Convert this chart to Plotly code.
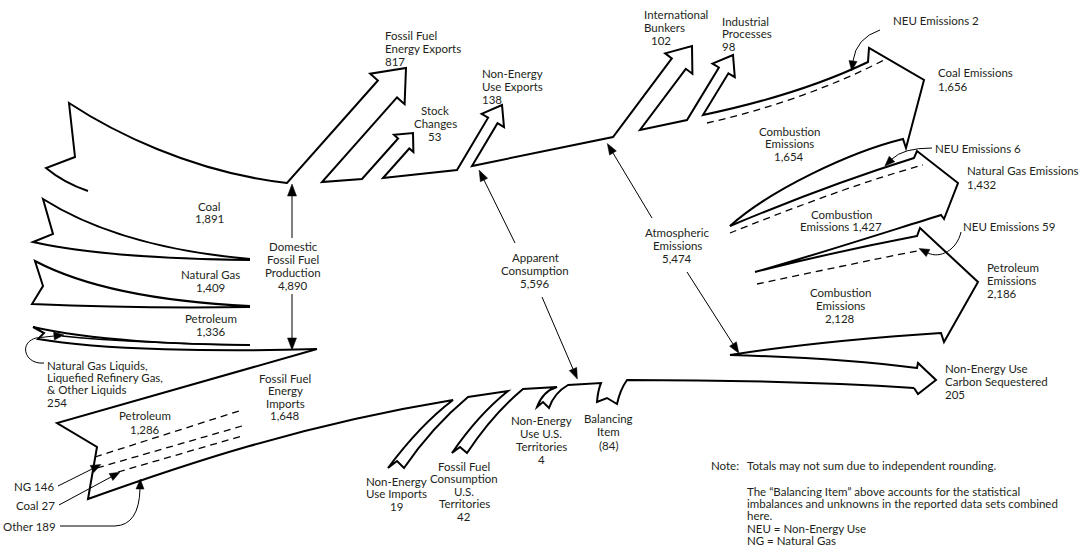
import numpy as np
import plotly.graph_objects as go

# ---------------- DATA (MMT CO2 Eq.) ----------------
production_names = ["Coal", "Natural Gas", "Petroleum",
                    "Natural Gas Liquids,\nLiquefied Refinery Gas,\n& Other Liquids"]
production_values = [1891, 1409, 1336, 254]

import_names = ["Petroleum", "NG", "Coal", "Other"]
import_values = [1286, 146, 27, 189]

total_names = ["Domestic\nFossil Fuel\nProduction", "Fossil Fuel\nEnergy\nImports",
               "Apparent\nConsumption", "Atmospheric\nEmissions"]
total_values = [4890, 1648, 5596, 5474]

outflow_names = ["Fossil Fuel\nEnergy Exports", "Stock\nChanges", "Non-Energy\nUse Exports",
                 "International\nBunkers", "Industrial\nProcesses"]
outflow_values = [817, 53, 138, 102, 98]

territory_names = ["Non-Energy\nUse Imports", "Fossil Fuel\nConsumption\nU.S.\nTerritories",
                   "Non-Energy\nUse U.S.\nTerritories", "Balancing\nItem"]
territory_values = [19, 42, 4, -84]

emission_names = ["Coal Emissions", "Natural Gas Emissions", "Petroleum\nEmissions",
                  "Non-Energy Use\nCarbon Sequestered"]
emission_values = [1656, 1432, 2186, 205]

combustion_names = ["Combustion\nEmissions", "Combustion\nEmissions", "Combustion\nEmissions"]
combustion_values = [1654, 1427, 2128]

neu_emission_names = ["NEU Emissions", "NEU Emissions", "NEU Emissions"]
neu_emission_values = [2, 6, 59]

note_head = "Note:"
note_lines = ["Totals may not sum due to independent rounding.",
              "",
              "The \u201cBalancing Item\u201d above accounts for the statistical",
              "imbalances and unknowns in the reported data sets combined",
              "here.",
              "NEU = Non-Energy Use",
              "NG = Natural Gas"]

# ---------------- STYLE ----------------
INK = "#000000"
TXT = "#231f20"
FONT = "Lato, 'Open Sans', sans-serif"
FS = 11.5


def fmt(v):
    return f"({abs(v):,})" if v < 0 else f"{v:,}"


def f2(p):
    return f"{p[0]:.1f},{p[1]:.1f}"


class Path:
    def __init__(self, start):
        self.parts = ["M " + f2(start)]

    def L(self, *pts):
        for p in pts:
            self.parts.append("L " + f2(p))
        return self

    def Q(self, c, p):
        self.parts.append(f"Q {f2(c)} {f2(p)}")
        return self

    def C(self, c1, c2, p):
        self.parts.append(f"C {f2(c1)} {f2(c2)} {f2(p)}")
        return self

    def arrow(self, bl, br, tip, hw, hl):
        bl, br, tip = (np.array(v, float) for v in (bl, br, tip))
        mid = (bl + br) / 2
        d = tip - mid
        d /= np.linalg.norm(d)
        n = np.array([-d[1], d[0]])
        if np.dot(bl - mid, n) < 0:
            n = -n
        sw = abs(np.dot(bl - br, n)) / 2
        neck = tip - d * hl
        self.L(neck + n * sw, neck + n * hw / 2, tip, neck - n * hw / 2, neck - n * sw, br)
        return self

    def ribbon(self, cl, el, notch, er, cr, tr):
        self.Q(cl, el).L(notch, er).Q(cr, tr)
        return self

    def s(self):
        return " ".join(self.parts)


def head(end, frm, L=10, W=8):
    end = np.array(end, float)
    frm = np.array(frm, float)
    d = end - frm
    d /= np.linalg.norm(d)
    n = np.array([-d[1], d[0]])
    tip = end + d * L
    a = end + n * W / 2
    b = end - n * W / 2
    return f"M {f2(a)} L {f2(tip)} L {f2(b)} Z"


shapes = []


def outline(p, w=2.0):
    shapes.append(dict(type="path", path=p, xref="x", yref="y",
                       line=dict(color=INK, width=w)))


def dashed(p):
    shapes.append(dict(type="path", path=p, xref="x", yref="y",
                       line=dict(color=INK, width=1.3, dash="7px,5px")))


def callout(p, hd, L=10, W=8):
    shapes.append(dict(type="path", path=p, xref="x", yref="y",
                       line=dict(color=INK, width=1.0)))
    shapes.append(dict(type="path", path=head(*hd, L=L, W=W), xref="x", yref="y",
                       fillcolor=INK, line=dict(color=INK, width=0.5)))


# ---------------- GEOMETRY (drawing layout) ----------------
# upper boundary of the flow: production -> exports ... -> coal emissions
top = (Path((88, 191)).Q((64, 183), (46, 168)).L((75, 157), (69, 103))
       .C((110, 130), (190, 172), (287, 183))
       .arrow((287, 183), (322, 182), (406, 68), 46, 28)
       .L((362, 179))
       .arrow((362, 179), (383, 178), (413, 133), 26, 14)
       .L((457, 170))
       .arrow((457, 170), (472, 166), (502, 105), 26, 18)
       .L((613, 137))
       .arrow((613, 137), (640, 130), (692, 46), 34, 22)
       .L((687, 120))
       .arrow((687, 120), (703, 115), (733, 55), 26, 18)
       .C((760, 103), (820, 85), (868, 62))
       .L((869, 48), (924, 80), (906, 148), (903, 139))
       .C((850, 152), (770, 190), (730, 226)))
outline(top.s())

# emission bands: natural gas, petroleum, NEU sequestered
emis = (Path((730, 226)).C((780, 205), (850, 178), (914, 158))
        .L((917, 151), (958, 183), (944, 219), (941, 215))
        .C((880, 234), (815, 255), (755, 272))
        .C((810, 258), (870, 245), (917, 236))
        .L((920, 228), (978, 282), (944, 342), (941, 333))
        .C((880, 337), (800, 344), (730, 355))
        .C((800, 357), (870, 362), (917, 368))
        .L((918, 363), (936, 380), (918, 394), (914, 388)))
outline(emis.s())

# lower boundary: imports band and inflow ribbons
bottom = (Path((317, 349)).L((57, 423), (97, 447), (88, 499))
          .C((180, 466), (300, 425), (453, 400))
          .ribbon((420, 425), (388, 468), (397, 461), (404, 468), (432, 427), (468, 397))
          .L((508, 391))
          .ribbon((478, 415), (452, 453), (460, 447), (467, 453), (493, 414), (523, 389))
          .L((557, 387))
          .ribbon((543, 391), (537, 407), (543, 402), (549, 408), (554, 393), (568, 385))
          .L((601, 383))
          .ribbon((598, 390), (597, 402), (607, 398), (617, 404), (620, 390), (627, 380))
          .C((760, 380), (850, 384), (914, 388)))
outline(bottom.s())

# production fins
outline(Path((250, 259)).C((170, 252), (100, 235), (43, 199)).L((53, 234), (33, 242))
        .C((90, 255), (170, 259), (250, 260)).s())
outline(Path((250, 306)).C((165, 302), (90, 290), (35, 261)).L((43, 286), (32, 304))
        .C((100, 307), (180, 308), (250, 307)).s())
outline(Path((250, 345)).C((180, 345), (90, 340), (33, 327)).L((44, 333), (38, 339))
        .C((100, 350), (220, 352), (317, 349)).s())
outline(Path((62, 336)).C((110, 341), (190, 344), (250, 345)).s(), w=1.6)

# dashed separators
dashed(Path((707, 123)).C((765, 110), (830, 88), (884, 60)).s())
dashed(Path((730, 233)).C((780, 213), (860, 182), (923, 165)).s())
dashed(Path((757, 284)).C((810, 273), (870, 260), (917, 251)).s())
dashed(Path((95, 457)).L((242, 410)).s())
dashed(Path((97, 468)).L((242, 426)).s())
dashed(Path((118, 472)).L((242, 436)).s())

# callout arrows
callout(Path((292, 238)).L((292, 196)).s(), ((292, 196), (292, 238)), L=12, W=9)
callout(Path((292, 294)).L((292, 338)).s(), ((292, 338), (292, 294)), L=12, W=9)
callout(Path((515, 243)).L((484, 180)).s(), ((484, 180), (515, 243)), L=11, W=8)
callout(Path((542, 297)).L((573, 369)).s(), ((573, 369), (542, 297)), L=11, W=8)
callout(Path((652, 218)).L((613, 153)).s(), ((613, 153), (652, 218)), L=11, W=8)
callout(Path((687, 272)).L((733, 344)).s(), ((733, 344), (687, 272)), L=11, W=8)
callout(Path((880, 30)).Q((856, 38), (853, 61)).s(), ((853, 61), (856, 38)))
callout(Path((932, 148)).Q((903, 148), (892, 159)).s(), ((892, 159), (903, 148)))
callout(Path((961, 232)).C((957, 250), (940, 259), (928, 253)).s(), ((928, 253), (940, 259)))
callout(Path((44, 363)).C((25, 365), (18, 343), (36, 338)).L((54, 336)).s(), ((54, 336), (36, 338)))
callout(Path((58, 486)).L((92, 469)).s(), ((92, 469), (58, 486)))
callout(Path((59, 505)).L((111, 477)).s(), ((111, 477), (59, 505)))
callout(Path((60, 526)).L((115, 526)).Q((139, 525), (140, 489)).s(), ((140, 489), (139, 525)))

# ---------------- TEXT ----------------
annotations = []


def text(s, x, y, anchor="center"):
    annotations.append(dict(text=s, x=x, y=y, xref="x", yref="y", showarrow=False,
                            xanchor=anchor, yanchor="middle",
                            font=dict(family=FONT, size=FS, color=TXT)))


def label(name, value, x, y0, anchor="center", sp=12.8, inline=False):
    lines = name.split("\n")
    if inline:
        lines[-1] = lines[-1] + " " + fmt(value)
    elif value is not None:
        lines.append(fmt(value))
    for i, ln in enumerate(lines):
        text(ln, x, y0 + i * sp, anchor)


# outflows at top
label(outflow_names[0], outflow_values[0], 383, 35, "left", 13)
label(outflow_names[1], outflow_values[1], 435, 110, "center", 13)
label(outflow_names[2], outflow_values[2], 480, 73, "left", 13)
label(outflow_names[3], None, 642, 14, "left", 13)
text(fmt(outflow_values[3]), 661, 40)
label(outflow_names[4], outflow_values[4], 720, 21, "left", 12.7)

# emissions (right)
label(emission_names[0], emission_values[0], 936, 72, "left", 14)
label(emission_names[1], emission_values[1], 965, 170, "left", 14)
label(emission_names[2], emission_values[2], 985, 267, "left", 13)
label(emission_names[3], emission_values[3], 943, 368, "left", 13)
label(neu_emission_names[0], neu_emission_values[0], 891, 20, "left", inline=True)
label(neu_emission_names[1], neu_emission_values[1], 933, 148, "left", inline=True)
label(neu_emission_names[2], neu_emission_values[2], 961, 226, "left", inline=True)
label(combustion_names[0], combustion_values[0], 789, 131, "center", 12.6)
label(combustion_names[1], combustion_values[1], 841, 214, "center", 12, inline=True)
label(combustion_names[2], combustion_values[2], 840, 292, "center", 13)

# production (left)
label(production_names[0], production_values[0], 209, 206, "center", 12.5)
label(production_names[1], production_values[1], 210, 274.5, "center", 13)
label(production_names[2], production_values[2], 211, 318, "center", 13)
label(production_names[3], production_values[3], 45, 365, "left", 12.4)
label(total_names[0], total_values[0], 293, 246, "center", 13)

# imports
label(total_names[1], total_values[1], 285, 378, "center", 12.5)
label(import_names[0], import_values[0], 145, 415, "center", 14)
label(import_names[1], import_values[1], 56, 486, "right", inline=True)
label(import_names[2], import_values[2], 57, 505, "right", inline=True)
label(import_names[3], import_values[3], 58, 526, "right", inline=True)

# totals in the middle
label(total_names[2], total_values[2], 535, 257, "center", 13)
label(total_names[3], total_values[3], 677, 232, "center", 13)

# bottom inflows / territories / balancing
label(territory_names[0], territory_values[0], 396, 481, "center", 12.5)
label(territory_names[1], territory_values[1], 464, 466, "center", 12.5)
label(territory_names[2], territory_values[2], 541, 420, "center", 13)
label(territory_names[3], territory_values[3], 608, 418, "center", 13.5)

# note
text(note_head, 709, 465, "left")
note_y = [465, 478, 491, 503, 515, 528, 540]
for ln, yy in zip(note_lines, note_y):
    if ln:
        text(ln, 745, yy, "left")

fig = go.Figure(go.Scatter(x=[], y=[], mode="markers", hoverinfo="skip", showlegend=False))
fig.update_layout(
    width=1080, height=552,
    margin=dict(l=0, r=0, t=0, b=0),
    paper_bgcolor="white", plot_bgcolor="white",
    xaxis=dict(range=[0, 1080], visible=False, fixedrange=True),
    yaxis=dict(range=[552, 0], visible=False, fixedrange=True),
    shapes=shapes,
    annotations=annotations,
    showlegend=False,
)
fig.write_html("out.html", config={"displayModeBar": False},
               post_script="document.body.style.margin='0';document.body.style.overflow='hidden';")
